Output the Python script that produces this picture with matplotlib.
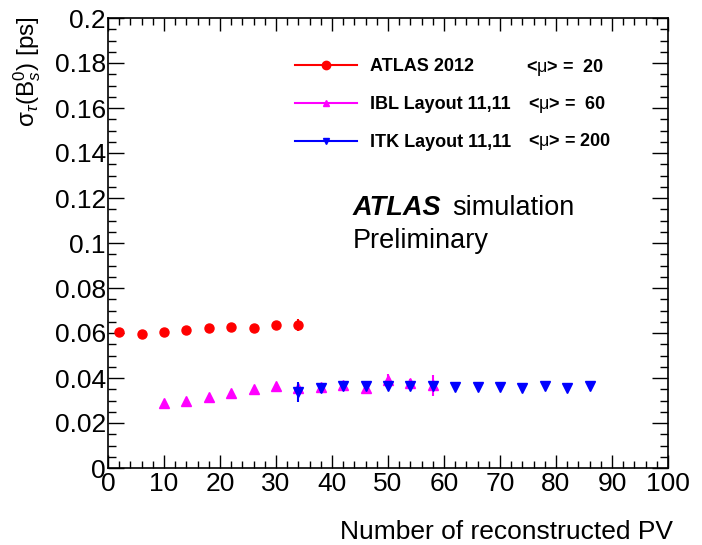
import matplotlib
matplotlib.use("Agg")
import matplotlib.pyplot as plt
from matplotlib.ticker import MultipleLocator, FuncFormatter
from matplotlib.lines import Line2D

plt.rcParams['font.family'] = ['Liberation Sans', 'DejaVu Sans']
plt.rcParams['mathtext.fontset'] = 'custom'
plt.rcParams['mathtext.rm'] = 'Liberation Sans'
plt.rcParams['mathtext.it'] = 'Liberation Sans:italic'
plt.rcParams['mathtext.bf'] = 'Liberation Sans:bold'

# ---- data ----
atlas_x = [2, 6, 10, 14, 18, 22, 26, 30, 34]
atlas_y = [0.0606, 0.0597, 0.0606, 0.0615, 0.0622, 0.0625, 0.0622, 0.0634, 0.0634]
atlas_err = [0.0004, 0.0004, 0.0004, 0.0004, 0.0005, 0.0005, 0.0006, 0.0008, 0.0027]

ibl_x = [10, 14, 18, 22, 26, 30, 34, 38, 42, 46, 50, 54, 58]
ibl_y = [0.0290, 0.0296, 0.0317, 0.0332, 0.0350, 0.0364, 0.0357, 0.0362, 0.0368, 0.0356, 0.0390, 0.0380, 0.0367]
ibl_err = [0.0003, 0.0003, 0.0003, 0.0004, 0.0004, 0.0005, 0.0008, 0.0010, 0.0010, 0.0010, 0.0030, 0.0015, 0.0045]

itk_x = [34, 38, 42, 46, 50, 54, 58, 62, 66, 70, 74, 78, 82, 86]
itk_y = [0.0337, 0.0354, 0.0366, 0.0366, 0.0366, 0.0364, 0.0366, 0.0360, 0.0360, 0.0359, 0.0356, 0.0364, 0.0356, 0.0366]
itk_err = [0.0045, 0.0020, 0.0010, 0.0008, 0.0010, 0.0010, 0.0010, 0.0005, 0.0005, 0.0005, 0.0005, 0.0006, 0.0006, 0.0015]

labels = ["ATLAS 2012", "IBL Layout 11,11", "ITK Layout 11,11"]
mu_labels = [r"<$\mathrm{\mu}$> =  20", r"<$\mathrm{\mu}$> =  60", r"<$\mathrm{\mu}$> = 200"]
colors = ["#ff0000", "#ff00ff", "#0000ff"]

fig = plt.figure(figsize=(7.02, 5.45), dpi=100)
ax = fig.add_axes([108/702, 1 - 468/545, 560/702, 450/545])

ax.errorbar(atlas_x, atlas_y, yerr=atlas_err, fmt='o', color=colors[0], ms=6.5,
            elinewidth=1.5, capsize=0, zorder=3)
ax.errorbar(ibl_x, ibl_y, yerr=ibl_err, fmt='^', color=colors[1], ms=7,
            elinewidth=1.5, capsize=0, zorder=3)
ax.errorbar(itk_x, itk_y, yerr=itk_err, fmt='v', color=colors[2], ms=7,
            elinewidth=1.5, capsize=0, zorder=4)

ax.set_xlim(0, 100)
ax.set_ylim(0, 0.2)
ax.xaxis.set_major_locator(MultipleLocator(10))
ax.xaxis.set_minor_locator(MultipleLocator(2))
ax.yaxis.set_major_locator(MultipleLocator(0.02))
ax.yaxis.set_minor_locator(MultipleLocator(0.005))
ax.yaxis.set_major_formatter(FuncFormatter(lambda v, p: "%g" % round(v, 4)))
ax.xaxis.set_major_formatter(FuncFormatter(lambda v, p: "%g" % v))

ax.tick_params(axis='both', which='both', direction='in', top=True, right=True,
               labelsize=19, width=1.0)
ax.tick_params(axis='x', which='major', length=9.5, pad=3)
ax.tick_params(axis='x', which='minor', length=4.7)
ax.tick_params(axis='y', which='major', length=11.5, pad=1.5)
ax.tick_params(axis='y', which='minor', length=6)
for s in ax.spines.values():
    s.set_linewidth(1.2)

ax.set_xlabel("Number of reconstructed PV", fontsize=19, loc='right')
ax.xaxis.set_label_coords((673 - 108) / 560, (468 - 520) / 450)
ax.set_ylabel(r"$\mathrm{\sigma}_{\tau}(\mathrm{B}_{s}^{0})$ [ps]", fontsize=17.5, loc='top')
ax.yaxis.set_label_coords((43 - 108) / 560, 1 + (18 - 16) / 450)

handles = [Line2D([], [], color=c, marker=m, ms=ms, lw=1.5)
           for c, m, ms in zip(colors, ['o', '^', 'v'], [6, 5, 5])]
leg = ax.legend(handles, labels, loc='upper left', bbox_to_anchor=(0.334, 0.9105),
                frameon=False, prop={'weight': 'bold', 'size': 13},
                handlelength=3.43, handletextpad=0.72, labelspacing=1.16, borderpad=0,
                borderaxespad=0)

for i, t in enumerate(mu_labels):
    ax.text((526 - 108) / 560 if i == 0 else (528 - 108) / 560,
            (468 - 71.5) / 450 - i * 37.5 / 450, t, transform=ax.transAxes,
            fontsize=13, fontweight='bold', va='baseline', ha='left')

ax.text((353 - 108) / 560, 0.578, "ATLAS", transform=ax.transAxes,
        fontsize=19.5, va='center', ha='left', fontstyle='italic', fontweight='bold')
ax.text((452 - 108) / 560, 0.578, "simulation", transform=ax.transAxes,
        fontsize=19.5, va='center', ha='left')
ax.text((353 - 108) / 560, 0.505, "Preliminary", transform=ax.transAxes,
        fontsize=19.5, va='center', ha='left')

fig.savefig("out.png", dpi=100)
